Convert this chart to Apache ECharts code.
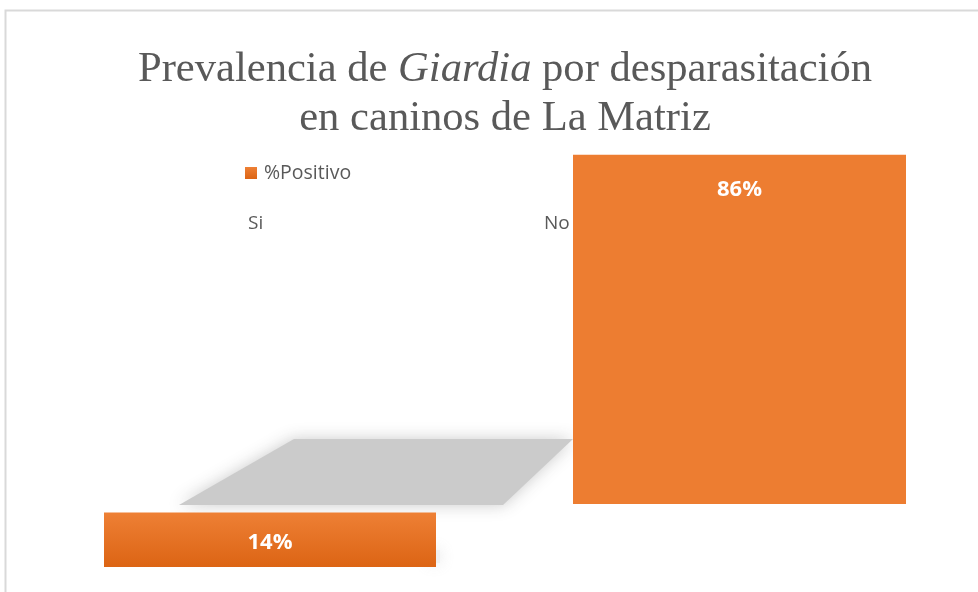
<!DOCTYPE html>
<html>
<head>
<meta charset="utf-8">
<script src="https://cdn.jsdelivr.net/npm/echarts@6/dist/echarts.min.js"></script>
<style>
html,body{margin:0;padding:0;background:#fff;}
#chart{width:978px;height:592px;}
</style>
</head>
<body>
<div id="chart"></div>
<script>
const categories = ['Si', 'No'];
const seriesName = '%Positivo';
const values = [14, 86];

const chart = echarts.init(document.getElementById('chart'));
const uiFont = 'Open Sans';
const orange = '#ED7D31';
const siGradient = new echarts.graphic.LinearGradient(0, 0, 0, 1, [
  {offset: 0, color: '#EE8035'},
  {offset: 1, color: '#DC6414'}
]);

const option = {
  backgroundColor: '#fff',
  animation: false,
  title: {
    text: '{n|Prevalencia de }{i|Giardia}{n| por desparasitación}\n{n|en caninos de La Matriz}',
    left: 505,
    textAlign: 'center',
    top: 45,
    padding: 0,
    textStyle: {
      fontWeight: 'normal',
      rich: {
        n: {fontFamily: 'Liberation Serif', fontWeight: 'normal', fontSize: 42.6, color: '#595959', lineHeight: 49},
        i: {fontFamily: 'Liberation Serif', fontWeight: 'normal', fontStyle: 'italic', fontSize: 42.6, color: '#595959', lineHeight: 49}
      }
    }
  },
  legend: {
    left: 240,
    top: 158,
    icon: 'rect',
    itemWidth: 12,
    itemHeight: 12,
    itemGap: 8,
    textStyle: {fontFamily: uiFont, fontSize: 19.5, color: '#595959', padding: [0, 0, 0, 2]},
    data: [seriesName]
  },
  graphic: [
    {type: 'rect', shape: {x: 5.5, y: 10.5, width: 1000, height: 600}, style: {fill: 'none', stroke: '#d9d9d9', lineWidth: 2}, silent: true, z: 0},
    {type: 'polygon', shape: {points: [[294, 439], [573, 439], [503, 505], [179, 505]]}, style: {fill: '#cbcbcb', shadowBlur: 16, shadowColor: 'rgba(200,200,200,0.95)'}, silent: true, z: 0},
    {type: 'rect', shape: {x: 428, y: 550, width: 12, height: 13}, style: {fill: 'rgba(235,235,235,0.6)', shadowBlur: 14, shadowColor: 'rgba(170,170,170,0.5)'}, silent: true, z: 0},
    {type: 'text', left: 248, top: 214, style: {text: categories[0], fontFamily: uiFont, fontSize: 19, fill: '#595959'}, z: 5},
    {type: 'text', left: 544, top: 214, style: {text: categories[1], fontFamily: uiFont, fontSize: 19, fill: '#595959'}, z: 5}
  ],
  grid: [
    {left: 104, top: 178, width: 332, height: 389},
    {left: 573, top: 98, width: 333, height: 406}
  ],
  xAxis: [
    {type: 'category', gridIndex: 0, data: [categories[0]], show: false},
    {type: 'category', gridIndex: 1, data: [categories[1]], show: false}
  ],
  yAxis: [
    {type: 'value', gridIndex: 0, min: 0, max: 100, show: false, splitLine: {show: false}},
    {type: 'value', gridIndex: 1, min: 0, max: 100, show: false, splitLine: {show: false}}
  ],
  series: [
    {
      name: seriesName, type: 'bar', xAxisIndex: 0, yAxisIndex: 0,
      barWidth: '100%', data: [values[0]],
      itemStyle: {color: siGradient},
      label: {show: true, position: 'inside', offset: [0, 3], formatter: '{c}%', fontFamily: uiFont, fontWeight: 'bold', fontSize: 22, color: '#fff'},
      z: 3
    },
    {
      name: seriesName, type: 'bar', xAxisIndex: 1, yAxisIndex: 1,
      barWidth: '100%', data: [values[1]],
      itemStyle: {color: orange},
      label: {show: true, position: 'insideTop', distance: 24, formatter: '{c}%', fontFamily: uiFont, fontWeight: 'bold', fontSize: 22, color: '#fff'},
      z: 3
    }
  ]
};
chart.setOption(option);
</script>
</body>
</html>
